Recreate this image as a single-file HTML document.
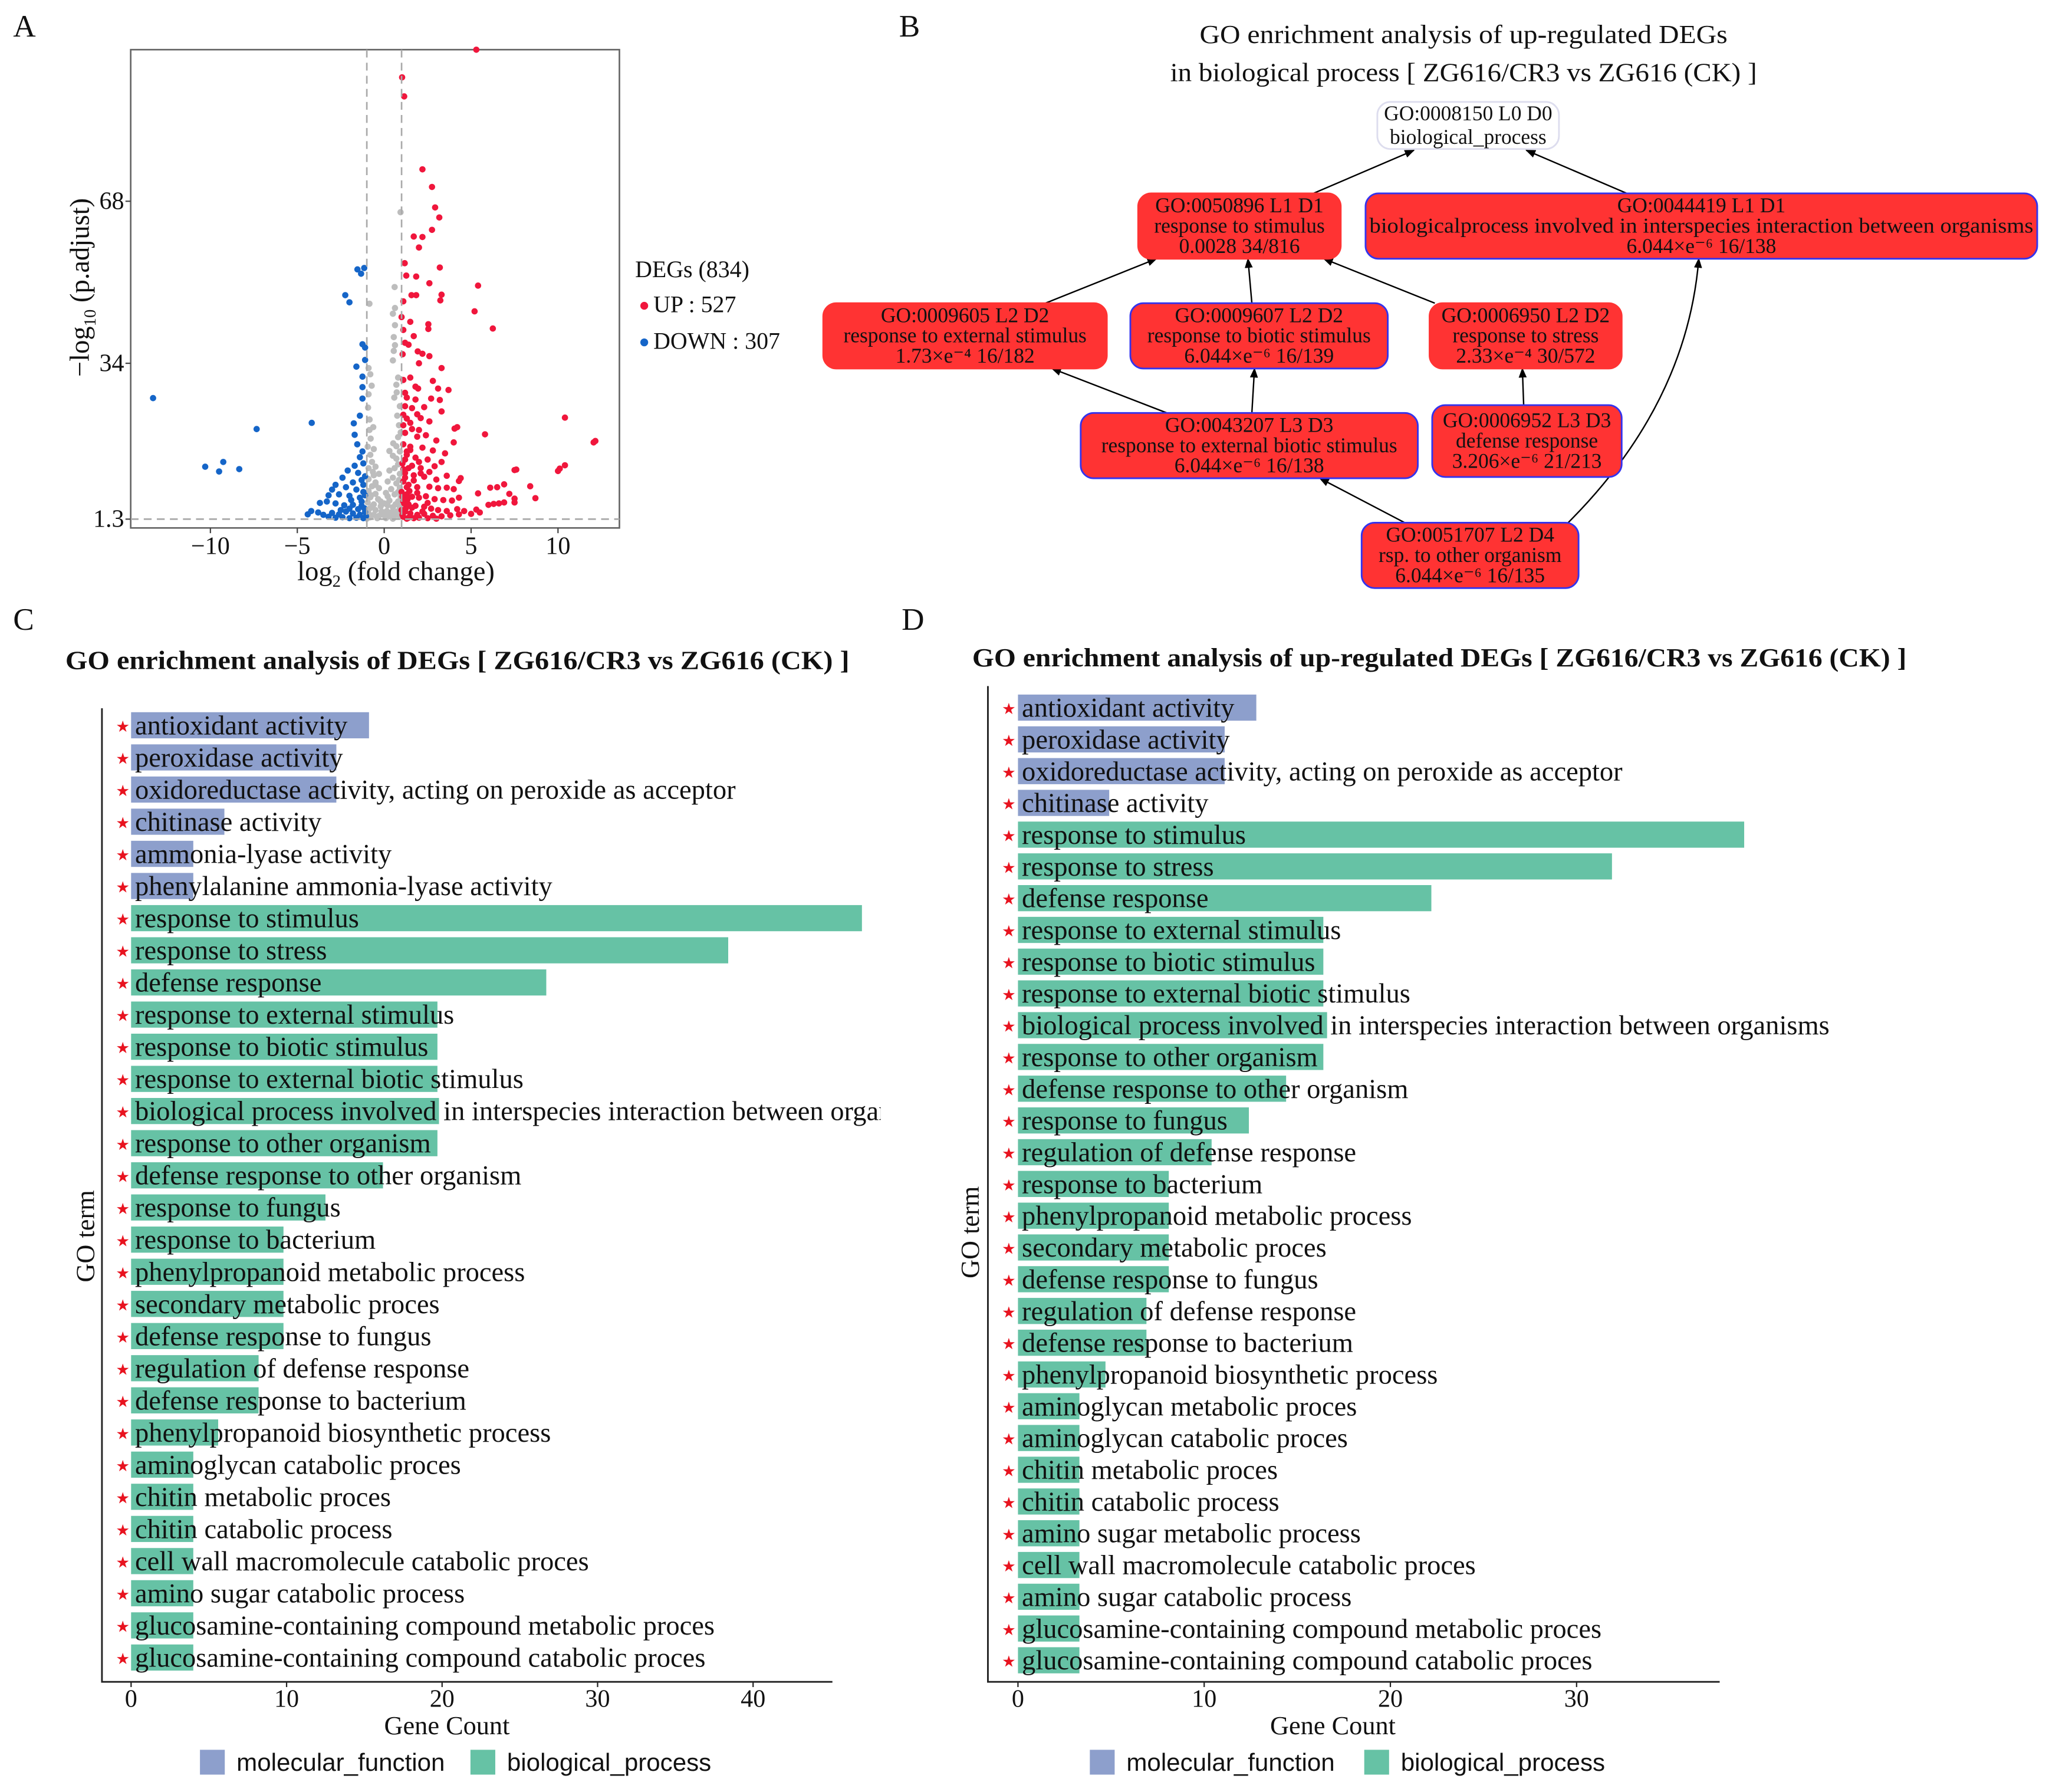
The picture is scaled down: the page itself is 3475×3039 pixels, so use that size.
<!DOCTYPE html>
<html><head><meta charset="utf-8"><style>
html,body{margin:0;padding:0;background:#fff;}
svg{display:block;}
text{font-family:"Liberation Serif",serif;fill:#111;}
.sans{font-family:"Liberation Sans",sans-serif;}
.star{fill:#e8131f;}
</style></head><body>
<svg id="fig" width="3475" height="3039" viewBox="0 0 1568 1371.3" xmlns="http://www.w3.org/2000/svg">
<defs>
<marker id="arr" viewBox="0 0 10 10" refX="9" refY="5" markerWidth="7" markerHeight="7" orient="auto-start-reverse"><path d="M0,1 L10,5 L0,9 z" fill="#000"/></marker>
<clipPath id="clipC"><rect x="0" y="520" width="674" height="780"/></clipPath>
</defs>
<text x="10" y="28" font-size="24">A</text>
<text x="688" y="28" font-size="24">B</text>
<text x="10" y="482" font-size="24">C</text>
<text x="690" y="482" font-size="24">D</text>
<g id="volcano"></g>
<g id="dag"></g>
<g id="chartC"></g>
<g id="chartD"></g>
</svg>
<script>
const NS="http://www.w3.org/2000/svg";
// ---------- Volcano data ----------
const upPoints=[[5.3,99.8],[1.03,94],[1.15,90],[2.2,74.7],[2.75,71],[2.93,66.7],[3.17,64.6],[2.75,62],[1.7,60.6],[2.2,60.5],[2.0,58.3],[1.18,55],[3.2,54.1],[1.27,52.4],[1.84,52.2],[2.6,50.8],[5.4,50.3],[1.57,48.3],[1.84,48.3],[3.3,48.4],[1.1,47],[3.23,47.2],[5.2,44.9],[1.0,43.7],[1.5,42.7],[6.25,41.3],[2.54,42.2],[2.54,41.2],[1.1,41],[1.7,39.7],[1.2,38.3],[1.4,37.9],[1.93,36.5],[2.2,36],[2.6,35.5],[1.06,35.9],[2.0,34],[1.1,30.5],[2.8,30.3],[1.8,29.1],[1.95,28.7],[3.1,28.7],[3.7,28.4],[1.3,26.8],[1.8,26.4],[2.7,26.6],[3.2,26.3],[1.2,25],[1.6,24.6],[2.3,24.8],[3.3,23.9],[1.1,23.2],[1.9,23.3],[2.1,22.5],[1.5,21.5],[2.6,21.8],[4.2,20.6],[4.05,20.3],[10.4,22.6],[5.8,19.1],[1.2,19.4],[1.9,18.6],[2.4,18.9],[3.0,17.8],[4.0,17.4],[12.15,17.7],[12.05,17.4],[1.1,17],[1.5,16.5],[2.2,16.3],[2.8,15.7],[3.5,15.1],[1.3,14.8],[1.8,14.2],[2.5,13.8],[3.3,13.3],[1.05,13],[1.6,12.5],[2.1,12],[2.9,12.4],[10.4,12.6],[10.1,11.9],[10.0,11.4],[7.5,11.6],[7.6,11.7],[1.2,11],[1.7,10.5],[2.3,10.2],[3.6,10.4],[4.4,9.9],[4.3,9.3],[8.4,8.2],[6.5,8.0],[6.9,8.6],[6.1,7.9],[1.1,9.2],[1.4,8.5],[1.9,8.0],[2.6,8.1],[3.1,7.8],[3.6,7.9],[4.0,7.6],[7.2,6.6],[7.5,5.6],[8.7,5.7],[1.0,7],[1.3,6.5],[1.6,6.0],[2.0,5.8],[2.4,6.1],[2.9,5.5],[3.4,5.3],[3.9,5.2],[4.3,5.8],[5.4,6.7],[6.9,4.8],[7.5,4.8],[6.0,4.3],[6.3,4.5],[6.6,4.6],[1.1,5.0],[1.4,4.4],[1.8,4.1],[2.3,3.9],[2.7,3.5],[3.1,3.2],[3.6,3.0],[4.2,3.4],[4.6,3.0],[5.3,3.3],[5.5,2.7],[1.0,3.2],[1.2,2.9],[1.5,2.5],[1.9,2.2],[2.3,2.4],[2.8,2.0],[3.3,1.9],[3.8,2.1],[4.3,2.3],[5.0,2.4],[1.1,1.8],[1.4,1.6],[1.7,1.5],[2.0,1.6],[2.5,1.5],[3.0,1.4],[1.3,1.4],[2.2,2.9],[1.6,3.7],[2.5,4.7],[1.9,6.8],[1.3,8.0],[1.7,9.4],[2.1,10.9],[1.4,12.0],[1.2,13.8],[1.5,15.8],[2.0,13.3],[2.6,11.2],[3.0,9.6],[1.1,21.0],[1.6,20.2],[1.3,22.4],[2.0,20.0],[1.2,27.8],[1.5,31.0],[3.3,33.0],[1.05,2.2],[1.25,3.6],[1.15,4.6],[1.35,5.5],[1.05,6.0],[1.45,7.2],[1.2,10.0],[1.1,11.8],[1.3,15.5]];
const downPoints=[[-13.3,26.7],[-7.34,20.2],[-4.17,21.5],[-10.3,12.3],[-9.5,11.3],[-9.26,13.3],[-8.34,11.8],[-1.54,53.7],[-1.15,54.0],[-1.33,52.8],[-2.24,48.3],[-2.0,46.8],[-1.25,38.0],[-1.1,37.3],[-1.1,34.7],[-1.6,33.3],[-1.25,31.2],[-1.25,29.0],[-1.25,26.6],[-1.4,23.0],[-1.75,21.4],[-1.7,19.0],[-1.55,17.0],[-1.25,15.5],[-1.4,14.3],[-1.2,13.0],[-1.7,12.5],[-2.1,11.5],[-1.5,11.0],[-1.1,10.3],[-2.4,10.0],[-1.3,9.5],[-1.8,9.0],[-2.8,8.5],[-3.0,7.5],[-2.2,8.0],[-1.6,7.5],[-1.2,7.0],[-3.2,6.3],[-2.6,6.5],[-2.0,6.2],[-1.4,5.8],[-3.7,4.7],[-3.3,5.0],[-2.8,4.6],[-2.3,4.2],[-1.8,4.3],[-1.3,4.1],[-4.4,2.3],[-4.2,3.0],[-3.8,2.7],[-3.5,2.2],[-3.0,2.6],[-2.6,2.3],[-2.2,2.9],[-1.8,2.5],[-1.4,2.2],[-1.1,2.8],[-3.2,1.8],[-2.8,1.6],[-2.4,1.7],[-2.0,1.5],[-1.6,1.6],[-1.2,1.5],[-1.5,3.4],[-2.0,3.5],[-2.5,3.2],[-1.1,6.3],[-1.9,5.3],[-1.2,8.5],[-1.05,1.9],[-1.15,3.6],[-1.3,5.0]];
const nsPoints=[[0.94,65.7],[0.6,50],[-0.85,46.5],[0.62,45.6],[0.5,44.4],[0.62,42],[0.55,39.5],[0.62,37.8],[0.55,36.6],[0.5,34.6],[-0.8,31.7],[-0.72,29.3],[0.58,26.8],[0.72,27.9],[-0.93,24.7],[-0.84,22.2],[-0.63,20.6],[-0.78,18.2],[0.52,17.2],[0.3,15.6],[0.5,14.6],[0.7,14.0],[-0.8,14.8],[-0.7,13.3],[-0.5,12.3],[-0.9,12.0],[0.8,12.8],[0.6,12.0],[0.3,11.5],[-0.3,10.8],[-0.6,10.5],[0.9,10.8],[0.5,10.0],[-0.9,9.7],[-0.5,9.0],[0.2,9.2],[0.7,8.8],[-0.7,8.2],[-0.3,7.8],[0.4,7.6],[0.9,7.9],[-0.9,7.2],[-0.5,6.6],[0.1,6.8],[0.6,6.5],[0.95,6.0],[-0.8,5.9],[-0.35,5.5],[0.3,5.2],[0.8,5.0],[-0.95,4.8],[-0.6,4.4],[-0.2,4.0],[0.2,4.2],[0.5,3.8],[0.9,3.9],[-0.85,3.5],[-0.5,3.2],[-0.15,2.9],[0.15,3.0],[0.45,2.8],[0.75,2.9],[-0.9,2.5],[-0.6,2.2],[-0.3,2.0],[0,2.1],[0.3,1.9],[0.6,2.0],[0.9,1.8],[-0.8,1.7],[-0.4,1.5],[0.1,1.5],[0.5,1.4],[-1,1.4],[-0.95,2.9],[0.98,2.4],[0.9,15.5],[0.95,19.5],[-0.95,16.5],[-0.6,16.0],[0.7,16.6],[0.8,18.5],[-0.85,20.0],[0.85,21.0],[0.75,23.0],[-0.9,27.5],[0.9,25.0],[0.8,31.0],[0.7,29.5],[-0.9,33.0],[-0.5,8.5],[0.2,6.1],[-0.2,5.0],[0.0,4.6],[-0.7,3.9],[0.65,4.4],[-0.75,6.3],[0.8,7.0],[-0.65,11.2],[0.85,9.5]];
const volXTicks=[-10,-5,0,5,10];
const volYTicks=[1.3,34,68];

// ---------- Bar chart data ----------
const termsC=["antioxidant activity","peroxidase activity","oxidoreductase activity, acting on peroxide as acceptor","chitinase activity","ammonia-lyase activity","phenylalanine ammonia-lyase activity","response to stimulus","response to stress","defense response","response to external stimulus","response to biotic stimulus","response to external biotic stimulus","biological process involved in interspecies interaction between organisms","response to other organism","defense response to other organism","response to fungus","response to bacterium","phenylpropanoid metabolic process","secondary metabolic proces","defense response to fungus","regulation of defense response","defense response to bacterium","phenylpropanoid biosynthetic process","aminoglycan catabolic proces","chitin metabolic proces","chitin catabolic process","cell wall macromolecule catabolic proces","amino sugar catabolic process","glucosamine-containing compound metabolic proces","glucosamine-containing compound catabolic proces"];
const countsC=[15.3,13.2,13.2,6,4,4,47,38.4,26.7,19.7,19.7,19.7,19.8,19.7,16.2,12.5,9.8,9.8,9.8,9.8,8.2,8.2,5.6,4,4,4,4,4,4,4];
const typesC=["mf","mf","mf","mf","mf","mf","bp","bp","bp","bp","bp","bp","bp","bp","bp","bp","bp","bp","bp","bp","bp","bp","bp","bp","bp","bp","bp","bp","bp","bp"];
const ticksC=[0,10,20,30,40];

const termsD=["antioxidant activity","peroxidase activity","oxidoreductase activity, acting on peroxide as acceptor","chitinase activity","response to stimulus","response to stress","defense response","response to external stimulus","response to biotic stimulus","response to external biotic stimulus","biological process involved in interspecies interaction between organisms","response to other organism","defense response to other organism","response to fungus","regulation of defense response","response to bacterium","phenylpropanoid metabolic process","secondary metabolic proces","defense response to fungus","regulation of defense response","defense response to bacterium","phenylpropanoid biosynthetic process","aminoglycan metabolic proces","aminoglycan catabolic proces","chitin metabolic proces","chitin catabolic process","amino sugar metabolic process","cell wall macromolecule catabolic proces","amino sugar catabolic process","glucosamine-containing compound metabolic proces","glucosamine-containing compound catabolic proces"];
const countsD=[12.8,11.1,11.1,4.9,39,31.9,22.2,16.4,16.4,16.4,16.6,16.4,14.4,12.4,10.4,8.1,8.1,8.1,8.1,6.9,6.9,4.7,3.3,3.3,3.3,3.3,3.3,3.3,3.3,3.3,3.3];
const typesD=["mf","mf","mf","mf","bp","bp","bp","bp","bp","bp","bp","bp","bp","bp","bp","bp","bp","bp","bp","bp","bp","bp","bp","bp","bp","bp","bp","bp","bp","bp","bp"];
const ticksD=[0,10,20,30];

function mk(tag,parent,attrs){const e=document.createElementNS(NS,tag);for(const k in attrs)e.setAttribute(k,attrs[k]);parent.appendChild(e);return e;}

// ---------- Volcano ----------
(function(){
const g=document.getElementById('volcano');
const X0=100,X1=474,Y0=38,Y1=404;
const xs=v=>294+v*13.3;
const ys=v=>278-(v-34)*3.647;
let el=mk('rect',g,{x:X0,y:Y0,width:X1-X0,height:Y1-Y0,fill:'#fff',stroke:'#666','stroke-width':1.2});


const drawPts=(arr,col,name)=>{arr.forEach(p=>{const c=mk('circle',g,{cx:xs(p[0]),cy:ys(p[1]),r:2.4,fill:col});

});};
drawPts(nsPoints,'#bdbdbd','point-not-significant');
drawPts(downPoints,'#1565c8','point-down');
drawPts(upPoints,'#f0163c','point-up');
[-1,1].forEach(v=>{const l=mk('line',g,{x1:xs(v),x2:xs(v),y1:Y0,y2:Y1,stroke:'#aaa','stroke-width':1.2,'stroke-dasharray':'6,4'});

});
el=mk('line',g,{x1:X0,x2:X1,y1:ys(1.3),y2:ys(1.3),stroke:'#aaa','stroke-width':1.2,'stroke-dasharray':'6,4'});


volXTicks.forEach(v=>{const t=mk('line',g,{x1:xs(v),x2:xs(v),y1:Y1,y2:Y1+4,stroke:'#444'});


const tx=mk('text',g,{x:xs(v),y:Y1+20,'font-size':19,'text-anchor':'middle'});tx.textContent=(v<0?'\u2212'+(-v):v);

});
volYTicks.forEach(v=>{const t=mk('line',g,{x1:X0-4,x2:X0,y1:ys(v),y2:ys(v),stroke:'#444'});


const tx=mk('text',g,{x:X0-5,y:ys(v)+6,'font-size':19,'text-anchor':'end'});tx.textContent=v;

});
el=mk('text',g,{x:303,y:444,'font-size':21,'text-anchor':'middle'});
el.innerHTML='log<tspan font-size="13" dy="5">2</tspan><tspan dy="-5"> (fold change)</tspan>';


el=mk('text',g,{x:0,y:0,'font-size':21,'text-anchor':'middle',transform:'translate(68,220) rotate(-90)'});
el.innerHTML='\u2212log<tspan font-size="13" dy="5">10</tspan><tspan dy="-5"> (p.adjust)</tspan>';


el=mk('text',g,{x:486,y:212,'font-size':18});el.textContent='DEGs (834)';


[['#f0163c','UP : 527',239,'legend-up'],['#1565c8','DOWN : 307',267,'legend-down']].forEach(a=>{
const c=mk('circle',g,{cx:493,cy:a[2]-5,r:3,fill:a[0]});


const t=mk('text',g,{x:500,y:a[2],'font-size':18});t.textContent=a[1];

});
})();

// ---------- DAG ----------
(function(){
const g=document.getElementById('dag');
let el=mk('text',g,{x:1120,y:33,'font-size':20,'text-anchor':'middle',textLength:404,lengthAdjust:'spacingAndGlyphs'});
el.textContent='GO enrichment analysis of up-regulated DEGs';


el=mk('text',g,{x:1120,y:62,'font-size':20,'text-anchor':'middle',textLength:449,lengthAdjust:'spacingAndGlyphs'});
el.textContent='in biological process [ ZG616/CR3 vs ZG616 (CK) ]';


const edges=[[1005,148,1082,115],[1245,148,1168,115],[800,232,885,198],[958,232,955,198],[1098,232,1013,198],[893,316,805,282],[958,316,960,282],[1166,310,1165,282],[1075,400,1010,366]];
edges.forEach(e=>{const l=mk('line',g,{x1:e[0],y1:e[1],x2:e[2],y2:e[3],stroke:'#000','stroke-width':1.1,'marker-end':'url(#arr)'});

});
el=mk('path',g,{d:'M1200,400 C1270,330 1295,260 1300,198',fill:'none',stroke:'#000','stroke-width':1.1,'marker-end':'url(#arr)'});


const nodes=[
[1054,78,139,36,'#fff','#dde','GO:0008150 L0 D0','biological_process',null,'node-biological-process'],
[871,148,155,50,'#ff3333','#ff3333','GO:0050896 L1 D1','response to stimulus','0.0028 34/816','node-response-to-stimulus'],
[1045,148,514,50,'#ff3333','#3333ee','GO:0044419 L1 D1','biologicalprocess involved in interspecies interaction between organisms','6.044\u00d7e\u207b\u2076 16/138','node-interspecies-interaction'],
[630,232,217,50,'#ff3333','#ff3333','GO:0009605 L2 D2','response to external stimulus','1.73\u00d7e\u207b\u2074 16/182','node-response-external-stimulus'],
[865,232,197,50,'#ff3333','#3333ee','GO:0009607 L2 D2','response to biotic stimulus','6.044\u00d7e\u207b\u2076 16/139','node-response-biotic-stimulus'],
[1094,232,147,50,'#ff3333','#ff3333','GO:0006950 L2 D2','response to stress','2.33\u00d7e\u207b\u2074 30/572','node-response-to-stress'],
[827,316,258,50,'#ff3333','#3333ee','GO:0043207 L3 D3','response to external biotic stimulus','6.044\u00d7e\u207b\u2076 16/138','node-response-external-biotic'],
[1096,310,145,55,'#ff3333','#3333ee','GO:0006952 L3 D3','defense response','3.206\u00d7e\u207b\u2076 21/213','node-defense-response'],
[1042,400,166,50,'#ff3333','#3333ee','GO:0051707 L2 D4','rsp. to other organism','6.044\u00d7e\u207b\u2076 16/135','node-other-organism']];
nodes.forEach(n=>{const gg=mk('g',g,{});


const r=mk('rect',gg,{x:n[0],y:n[1],width:n[2],height:n[3],rx:10,fill:n[4],stroke:n[5],'stroke-width':1.3});


const cx=n[0]+n[2]/2;const lines=[n[6],n[7],n[8]].filter(x=>x);
const lh=lines.length==2?18:15.5;const top=n[1]+n[3]/2-(lines.length-1)*lh/2;
lines.forEach((s,i)=>{const a={x:cx,y:top+i*lh+5,'font-size':16,'text-anchor':'middle'};
if(s.length>50){a.textLength=n[2]-6;a.lengthAdjust='spacingAndGlyphs';}
const t=mk('text',gg,a);t.textContent=s;

});});
})();

// ---------- Bar charts ----------
function barChart(id,cfg,terms,counts,types,ticks){
const g=document.getElementById(id);
const xs=v=>cfg.x0+v*cfg.unit;
const ys=i=>cfg.yFirst+i*cfg.step;
let el=mk('text',g,{x:cfg.titleX,y:cfg.titleY,'font-size':20,'font-weight':'bold',textLength:cfg.titleLen,lengthAdjust:'spacingAndGlyphs'});
el.textContent=cfg.title;


terms.forEach((t,i)=>{
const b=mk('rect',g,{x:xs(0),y:ys(i)-10,width:xs(counts[i])-xs(0),height:20,fill:types[i]=='mf'?'#8d9fcc':'#66c2a5'});


const s=mk('text',g,{x:cfg.starX,y:ys(i)+5,'font-size':12,'class':'star','text-anchor':'middle'});s.textContent='\u2605';

});
const lbl=mk('g',g,cfg.clip?{'clip-path':cfg.clip}:{});
terms.forEach((t,i)=>{
const tx=mk('text',lbl,{x:xs(0)+3,y:ys(i)+7,'font-size':21});tx.textContent=t;

});
el=mk('polyline',g,{points:`${cfg.axisX},${cfg.axisTop} ${cfg.axisX},${cfg.axisY} ${cfg.axisEnd},${cfg.axisY}`,fill:'none',stroke:'#222','stroke-width':1.3});


ticks.forEach(v=>{const t=mk('line',g,{x1:xs(v),x2:xs(v),y1:cfg.axisY,y2:cfg.axisY+4,stroke:'#222'});


const tx=mk('text',g,{x:xs(v),y:cfg.axisY+19,'font-size':19,'text-anchor':'middle'});tx.textContent=v;

});
el=mk('text',g,{x:cfg.gcX,y:1327,'font-size':20,'text-anchor':'middle'});el.textContent='Gene Count';


el=mk('text',g,{x:0,y:0,'font-size':20,'text-anchor':'middle',transform:`translate(${cfg.goX},${cfg.goY}) rotate(-90)`});el.textContent='GO term';


[['#8d9fcc','molecular_function',cfg.lg1,'legend-molecular-function'],['#66c2a5','biological_process',cfg.lg2,'legend-biological-process']].forEach(a=>{
const r=mk('rect',g,{x:a[2],y:1339,width:19,height:19,fill:a[0]});


const t=mk('text',g,{x:a[2]+28,y:1355,'font-size':19,'class':'sans'});t.textContent=a[1];

});
}
barChart('chartC',{x0:100.3,unit:11.9,yFirst:555,step:24.6,titleX:50,titleY:512,titleLen:600,title:'GO enrichment analysis of DEGs  [ ZG616/CR3 vs ZG616 (CK) ]',starX:94,axisX:78,axisTop:542,axisY:1287,axisEnd:637,gcX:342,goX:72,goY:946,lg1:153,lg2:360,clip:'url(#clipC)'},termsC,countsC,typesC,ticksC);
barChart('chartD',{x0:779,unit:14.25,yFirst:541.5,step:24.3,titleX:744,titleY:510,titleLen:715,title:'GO enrichment analysis of up-regulated DEGs [ ZG616/CR3 vs ZG616 (CK) ]',starX:772,axisX:756,axisTop:525,axisY:1287,axisEnd:1316,gcX:1020,goX:749,goY:943,lg1:834,lg2:1044,clip:null},termsD,countsD,typesD,ticksD);
</script>
</body></html>
